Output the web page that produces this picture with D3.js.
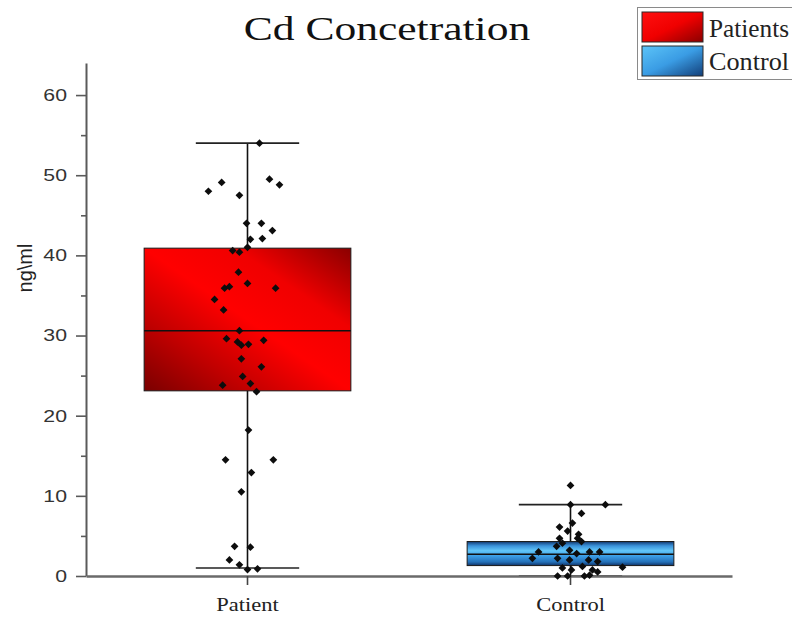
<!DOCTYPE html>
<html>
<head>
<meta charset="utf-8">
<script src="https://cdn.jsdelivr.net/npm/d3@7"></script>
<style>
  body { margin: 0; background: #fff; }
  svg { display: block; }
</style>
</head>
<body>
<svg id="chart" width="792" height="618"></svg>
<script>
// ---- data ----
const categories = ["Patient", "Control"];
const legendLabels = ["Patients", "Control"];
const yTicks = [0, 10, 20, 30, 40, 50, 60];
const yMinorTicks = [5, 15, 25, 35, 45, 55];

// box statistics (ng/ml): whisker min, Q1, median, Q3, whisker max
const patientStats = [1.0, 23.1, 30.6, 40.9, 54.0];
const controlStats = [0.0, 1.3, 2.7, 4.3, 8.9];

// individual measurements and their horizontal jitter (fraction of the category band)
const patientValues = [54.0, 49.1, 48.0, 47.5, 49.5, 48.8, 44.0, 44.0, 43.1, 42.0, 42.1, 40.6, 40.4, 41.0,
  37.9, 36.5, 35.9, 36.1, 35.9, 34.5, 33.2, 30.6, 29.6, 29.2, 28.8, 28.9, 29.4, 27.1, 26.1, 24.9, 24.0,
  23.8, 23.0, 18.2, 14.5, 14.5, 12.9, 10.5, 3.7, 3.6, 2.0, 1.4, 0.8, 0.9];
const patientJitter = [0.037, -0.080, -0.121, -0.025, 0.068, 0.099, -0.003, 0.043, 0.077, 0.009, 0.046, -0.046, -0.025, 0.0,
  -0.028, 0.0, -0.071, -0.056, 0.087, -0.102, -0.074, -0.025, -0.065, -0.031, -0.019, 0.003, 0.050, -0.019, 0.043, -0.015, 0.009,
  -0.077, 0.028, 0.003, -0.068, 0.080, 0.012, -0.019, -0.040, 0.009, -0.056, -0.025, 0.0, 0.031];

const controlValues = [11.3, 8.9, 8.9, 7.8, 6.6, 6.1, 5.6, 5.2, 4.7, 4.3, 3.7, 3.0, 2.2, 3.2, 2.8, 3.0, 3.0,
  2.2, 2.0, 2.0, 1.8, 1.1, 1.0, 0.75, 1.2, 0.75, 0.0, 0.0, 0.0, 0.1, 0.5, 4.1, 4.7];
const controlJitter = [0.0, 0.0, 0.108, 0.034, 0.006, -0.034, -0.009, 0.025, -0.034, 0.034, -0.043, -0.099, -0.118, -0.003, 0.019, 0.059, 0.090,
  -0.040, -0.003, 0.056, 0.084, 0.161, -0.025, 0.003, 0.037, 0.068, -0.040, -0.009, 0.043, 0.059, 0.084, -0.025, 0.022];

const groups = [
  { name: categories[0], stats: patientStats, values: patientValues, jitter: patientJitter, fill: "url(#redFill)" },
  { name: categories[1], stats: controlStats, values: controlValues, jitter: controlJitter, fill: "url(#blueFill)" }
];

// ---- setup ----
const svg = d3.select("#chart");
const serif = "'Liberation Serif', 'Times New Roman', serif";
const sans = "'Liberation Sans', Arial, sans-serif";

// the whole figure is horizontally widened; text is widened to suit
function stretch(sel, k) {
  sel.each(function () {
    const w = this.getComputedTextLength();
    d3.select(this).attr("textLength", w * k).attr("lengthAdjust", "spacingAndGlyphs");
  });
}

const x = d3.scaleBand().domain(categories).range([86, 732]).padding(0);
const y = d3.scaleLinear().domain([0, 64]).range([576, 63]);

// ---- gradients ----
const defs = svg.append("defs");
const red = defs.append("linearGradient").attr("id", "redFill")
  .attr("x1", 0).attr("y1", 1).attr("x2", 1).attr("y2", 0);
[[0, "#7a0000"], [0.25, "#c00000"], [0.5, "#ff0000"], [0.72, "#f00000"], [1, "#8a0000"]]
  .forEach(([o, c]) => red.append("stop").attr("offset", o).attr("stop-color", c));

const blue = defs.append("linearGradient").attr("id", "blueFill")
  .attr("x1", 0).attr("y1", 0).attr("x2", 0).attr("y2", 1);
[[0, "#123a72"], [0.18, "#3a92da"], [0.38, "#62c6f8"], [0.6, "#3b9ee6"], [0.85, "#2470b8"], [1, "#0f3266"]]
  .forEach(([o, c]) => blue.append("stop").attr("offset", o).attr("stop-color", c));

const blueLegend = defs.append("linearGradient").attr("id", "blueLegend")
  .attr("x1", 0).attr("y1", 0).attr("x2", 1).attr("y2", 1);
[[0, "#5cc4f8"], [0.5, "#3a9ce4"], [1, "#123e78"]]
  .forEach(([o, c]) => blueLegend.append("stop").attr("offset", o).attr("stop-color", c));

const redLegend = defs.append("linearGradient").attr("id", "redLegend")
  .attr("x1", 0).attr("y1", 0).attr("x2", 1).attr("y2", 1);
[[0, "#ff1010"], [0.5, "#f00000"], [1, "#8a0000"]]
  .forEach(([o, c]) => redLegend.append("stop").attr("offset", o).attr("stop-color", c));

// ---- boxes ----
const boxW = x.bandwidth() * 0.64;
const capW = x.bandwidth() * 0.32;

groups.forEach(g => {
  const cx = x(g.name) + x.bandwidth() / 2;
  const [mn, q1, med, q3, mx] = g.stats;
  const gg = svg.append("g");
  gg.append("rect")
    .attr("x", cx - boxW / 2).attr("y", y(q3))
    .attr("width", boxW).attr("height", y(q1) - y(q3))
    .attr("fill", g.fill).attr("stroke", "#1a1a1a").attr("stroke-width", 1);
  gg.append("line").attr("x1", cx - boxW / 2).attr("x2", cx + boxW / 2)
    .attr("y1", y(med)).attr("y2", y(med)).attr("stroke", "#111").attr("stroke-width", 1.5);
  // whiskers
  gg.append("line").attr("x1", cx).attr("x2", cx).attr("y1", y(q3)).attr("y2", y(mx))
    .attr("stroke", "#111").attr("stroke-width", 1.6);
  gg.append("line").attr("x1", cx).attr("x2", cx).attr("y1", y(q1)).attr("y2", y(mn))
    .attr("stroke", "#111").attr("stroke-width", 1.6);
  [mn, mx].forEach(v => gg.append("line")
    .attr("x1", cx - capW / 2).attr("x2", cx + capW / 2)
    .attr("y1", y(v)).attr("y2", y(v)).attr("stroke", "#222").attr("stroke-width", 1.6));
});

// ---- axes ----
const yAxis = svg.append("g").attr("transform", "translate(86,0)")
  .call(d3.axisLeft(y).tickValues(yTicks).tickSize(10).tickPadding(9).tickSizeOuter(0));
yAxis.select(".domain").attr("stroke", "#5a5a5a").attr("stroke-width", 2);
yAxis.selectAll(".tick line").attr("stroke", "#5a5a5a").attr("stroke-width", 1.6);
yAxis.selectAll(".tick text").attr("font-family", sans).attr("font-size", 17).attr("fill", "#333")
  .call(stretch, 1.25);

const yMinor = svg.append("g").attr("transform", "translate(86,0)")
  .call(d3.axisLeft(y).tickValues(yMinorTicks).tickSize(5).tickFormat("").tickSizeOuter(0));
yMinor.select(".domain").remove();
yMinor.selectAll(".tick line").attr("stroke", "#5a5a5a").attr("stroke-width", 1.6);

const xAxis = svg.append("g").attr("transform", `translate(0,${y(0)})`)
  .call(d3.axisBottom(x).tickSize(9).tickPadding(13).tickSizeOuter(0));
xAxis.select(".domain").attr("stroke", "#6a6a6a").attr("stroke-width", 2.6);
xAxis.selectAll(".tick line").attr("stroke", "#444").attr("stroke-width", 1.6);
xAxis.selectAll(".tick text").attr("font-family", serif).attr("font-size", 18).attr("fill", "#222")
  .call(stretch, 1.25);

// ---- points ----
const marker = d3.symbol(d3.symbolSquare, 30);
groups.forEach(g => {
  const cx = x(g.name) + x.bandwidth() / 2;
  svg.append("g").selectAll("path")
    .data(g.values.map((v, i) => ({ v, j: g.jitter[i] })))
    .join("path")
    .attr("d", marker)
    .attr("transform", d => `translate(${cx + d.j * x.bandwidth()},${y(d.v)}) rotate(45)`)
    .attr("fill", "#0d0d0d");
});

// ---- titles ----
svg.append("text").attr("x", 387).attr("y", 40).attr("text-anchor", "middle")
  .attr("font-family", serif).attr("font-size", 34).attr("fill", "#111")
  .text("Cd Concetration").call(stretch, 1.28);

svg.append("text").attr("transform", "translate(32,268) rotate(-90)")
  .attr("text-anchor", "middle").attr("font-family", sans).attr("font-size", 20).attr("fill", "#222")
  .text("ng\\ml");

// ---- legend ----
const legend = svg.append("g");
legend.append("rect").attr("x", 637.5).attr("y", 7.5).attr("width", 170).attr("height", 72)
  .attr("fill", "#fff").attr("stroke", "#8a8a8a").attr("stroke-width", 1);
const swatches = ["url(#redLegend)", "url(#blueLegend)"];
legendLabels.forEach((lab, i) => {
  legend.append("rect").attr("x", 642).attr("y", 12 + i * 34).attr("width", 61).attr("height", 30)
    .attr("fill", swatches[i]).attr("stroke", "#2a2a2a").attr("stroke-width", 1);
  legend.append("text").attr("x", 709).attr("y", 37 + i * 33)
    .attr("font-family", serif).attr("font-size", 26).attr("fill", "#222")
    .attr("textLength", 80).attr("lengthAdjust", "spacingAndGlyphs")
    .text(lab);
});
</script>
</body>
</html>
